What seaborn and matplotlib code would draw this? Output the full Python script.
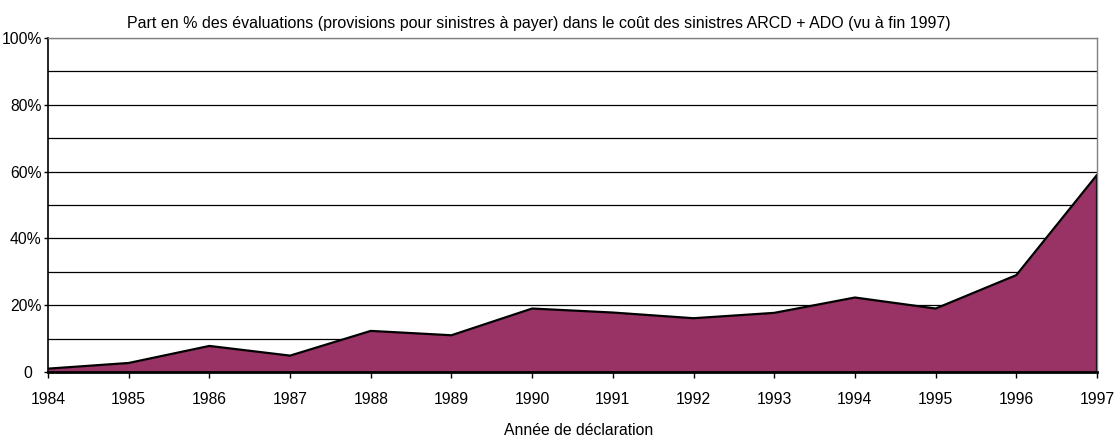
import matplotlib
matplotlib.use("Agg")
import matplotlib.pyplot as plt
import matplotlib.transforms as mtransforms
import seaborn as sns
import pandas as pd

years = [1984, 1985, 1986, 1987, 1988, 1989, 1990, 1991, 1992, 1993, 1994, 1995, 1996, 1997]
share_pct = [1.0, 2.7, 7.8, 4.9, 12.3, 11.0, 19.0, 17.8, 16.1, 17.7, 22.3, 19.0, 29.0, 59.0]
y_ticks = [0, 20, 40, 60, 80, 100]
y_tick_labels = ["0", "20%", "40%", "60%", "80%", "100%"]
title = "Part en % des évaluations (provisions pour sinistres à payer) dans le coût des sinistres ARCD + ADO (vu à fin 1997)"
x_label = "Année de déclaration"

sns.set_theme(style="white")
plt.rcParams["font.family"] = ["Liberation Sans", "DejaVu Sans"]
plt.rcParams["text.color"] = "black"
plt.rcParams["xtick.color"] = "black"
plt.rcParams["ytick.color"] = "black"
plt.rcParams["axes.labelcolor"] = "black"

FS = 11.3
FS_TITLE = 11.55
W, H = 1115, 438

df = pd.DataFrame({"annee": years, "part": share_pct})

fig = plt.figure(figsize=(W / 100, H / 100), dpi=100)
ax = fig.add_axes([48 / W, 66 / H, 1049 / W, 334 / H])

# horizontal grid every 10 %
for g in range(10, 101, 10):
    ax.axhline(g, color="black" if g < 100 else "#808080", lw=0.9, zorder=1)

ax.fill_between(df["annee"], df["part"], 0, color="#993366", zorder=2, lw=0)
sns.lineplot(data=df, x="annee", y="part", color="black", lw=1.6, ax=ax, zorder=3)
ax.plot([years[-1], years[-1]], [0, share_pct[-1]], color="black", lw=1.6, zorder=3)

ax.set_xlim(years[0], years[-1])
ax.set_ylim(0, 100)
ax.set_xticks(years)
ax.set_xticklabels([str(y) for y in years], fontsize=FS)
ax.set_yticks(y_ticks)
ax.set_yticklabels(y_tick_labels, fontsize=FS)
ax.tick_params(axis="x", direction="out", length=4.3, width=1, bottom=True, pad=10)
ax.tick_params(axis="y", direction="out", length=3, width=1, left=True, pad=1.5)

# the zero label sits where the percent sign would leave room for it
zero_shift = mtransforms.ScaledTranslation(-10 / 100, 0, fig.dpi_scale_trans)
ylabels = ax.get_yticklabels()
ylabels[0].set_transform(ylabels[0].get_transform() + zero_shift)

for side in ["top", "right"]:
    ax.spines[side].set_color("#808080")
    ax.spines[side].set_linewidth(1.0)
ax.spines["left"].set_color("black")
ax.spines["left"].set_linewidth(1.2)
ax.spines["bottom"].set_color("black")
ax.spines["bottom"].set_linewidth(2)
for s in ax.spines.values():
    s.set_zorder(5)

ax.set_xlabel(x_label, fontsize=FS, va="baseline")
ax.xaxis.set_label_coords((579 - 48) / 1049, -(435 - 372) / 334)
ax.set_ylabel("")
fig.text(127 / W, 1 - 28 / H, title, ha="left", va="baseline", fontsize=FS_TITLE)

fig.savefig("out.png", dpi=100)
